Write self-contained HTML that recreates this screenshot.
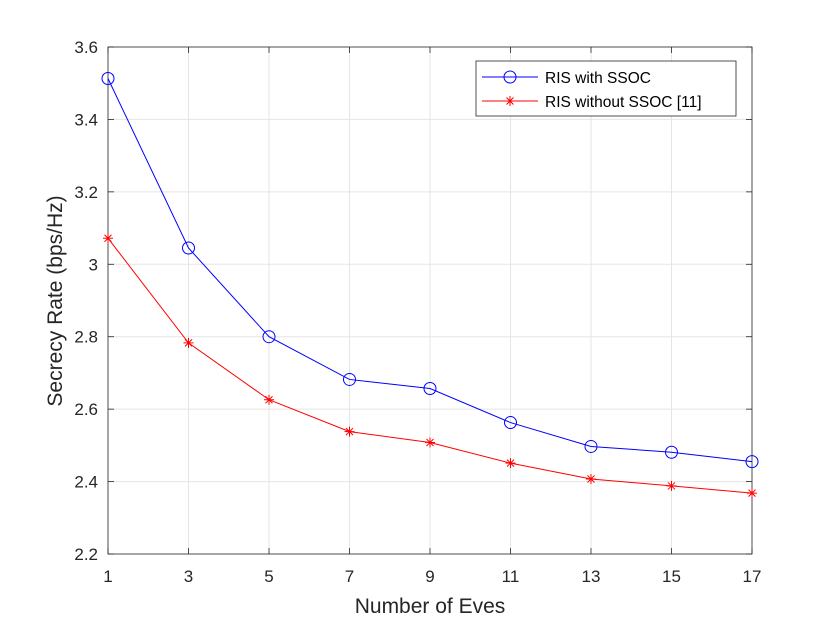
<!DOCTYPE html>
<html><head><meta charset="utf-8"><style>
html,body{margin:0;padding:0;background:#fff;}
svg{display:block;font-family:"Liberation Sans",sans-serif;}
</style></head><body>
<svg id="chart" width="830" height="623">
<rect x="0" y="0" width="830" height="623" fill="#fff"/>
<g id="grid"></g>
<g id="axes"></g>
<g id="series"></g>
<text x="430" y="613" text-anchor="middle" font-size="21" fill="#262626">Number of Eves</text>
<text transform="translate(62,301) rotate(-90)" text-anchor="middle" font-size="21" fill="#262626">Secrecy Rate (bps/Hz)</text>
<g>
<rect x="476" y="61" width="260" height="55" fill="#fff" stroke="#262626" stroke-width="0.8"/>
<g>
<line x1="482" y1="77" x2="538" y2="77" stroke="#0000ff" stroke-width="1"/>
<circle cx="510" cy="77" r="6" fill="none" stroke="#0000ff" stroke-width="1"/>
<text x="545" y="83" font-size="15.5" fill="#000">RIS with SSOC</text>
</g>
<g>
<line x1="482" y1="101" x2="538" y2="101" stroke="#ff0000" stroke-width="1"/>
<g stroke="#ff0000" stroke-width="1"><line x1="505" y1="101" x2="515" y2="101"/><line x1="510" y1="96" x2="510" y2="106"/><line x1="506.5" y1="97.5" x2="513.5" y2="104.5"/><line x1="506.5" y1="104.5" x2="513.5" y2="97.5"/></g>
<text x="545" y="107" font-size="15.5" fill="#000">RIS without SSOC [11]</text>
</g>
</g>
</svg>
<script>
const categories = [1,3,5,7,9,11,13,15,17];
const withSSOC = [3.513,3.045,2.800,2.682,2.657,2.563,2.497,2.481,2.455];
const withoutSSOC = [3.072,2.783,2.626,2.538,2.508,2.451,2.407,2.388,2.368];
const xTicks = [1,3,5,7,9,11,13,15,17];
const yTicks = [2.2,2.4,2.6,2.8,3.0,3.2,3.4,3.6];
const yTickLabels = ["2.2","2.4","2.6","2.8","3","3.2","3.4","3.6"];

const L=108,R=752,T=47,B=554;
const xs=v=>L+(v-1)/(17-1)*(R-L);
const ys=v=>B-(v-2.2)/(3.6-2.2)*(B-T);
const NS="http://www.w3.org/2000/svg";
function mk(tag,attrs,parent){const e=document.createElementNS(NS,tag);for(const k in attrs)e.setAttribute(k,attrs[k]);parent.appendChild(e);return e;}
const grid=document.getElementById('grid'),axes=document.getElementById('axes'),series=document.getElementById('series');

xTicks.forEach(v=>{
 const g=mk('line',{x1:xs(v),x2:xs(v),y1:T,y2:B,stroke:'#e5e5e5','stroke-width':1},grid);
 
 
 mk('line',{x1:xs(v),x2:xs(v),y1:B,y2:B-6,stroke:'#262626','stroke-width':0.8},axes);
 mk('line',{x1:xs(v),x2:xs(v),y1:T,y2:T+6,stroke:'#262626','stroke-width':0.8},axes);
 const t=mk('text',{x:xs(v),y:B+28,'text-anchor':'middle','font-size':17,fill:'#262626'},axes);
 t.textContent=v;
 
 
});
yTicks.forEach((v,i)=>{
 const g=mk('line',{x1:L,x2:R,y1:ys(v),y2:ys(v),stroke:'#e5e5e5','stroke-width':1},grid);
 
 
 mk('line',{x1:L,x2:L+6,y1:ys(v),y2:ys(v),stroke:'#262626','stroke-width':0.8},axes);
 mk('line',{x1:R,x2:R-6,y1:ys(v),y2:ys(v),stroke:'#262626','stroke-width':0.8},axes);
 const t=mk('text',{x:L-10,y:ys(v)+6,'text-anchor':'end','font-size':17,fill:'#262626'},axes);
 t.textContent=yTickLabels[i];
 
 
});
const frame=mk('rect',{x:L,y:T,width:R-L,height:B-T,fill:'none',stroke:'#262626','stroke-width':0.8},axes);



const pb=mk('polyline',{points:categories.map((c,i)=>xs(c)+','+ys(withSSOC[i])).join(' '),fill:'none',stroke:'#0000ff','stroke-width':1},series);


categories.forEach((c,i)=>{
 const m=mk('circle',{cx:xs(c),cy:ys(withSSOC[i]),r:6,fill:'none',stroke:'#0000ff','stroke-width':1},series);
 
 
});
const pr=mk('polyline',{points:categories.map((c,i)=>xs(c)+','+ys(withoutSSOC[i])).join(' '),fill:'none',stroke:'#ff0000','stroke-width':1},series);


categories.forEach((c,i)=>{
 const x=xs(c),y=ys(withoutSSOC[i]);
 const g=mk('g',{stroke:'#ff0000','stroke-width':1},series);
 
 
 mk('line',{x1:x-5,x2:x+5,y1:y,y2:y},g);
 mk('line',{x1:x,x2:x,y1:y-5,y2:y+5},g);
 mk('line',{x1:x-3.5,x2:x+3.5,y1:y-3.5,y2:y+3.5},g);
 mk('line',{x1:x-3.5,x2:x+3.5,y1:y+3.5,y2:y-3.5},g);
});
</script>
</body></html>
